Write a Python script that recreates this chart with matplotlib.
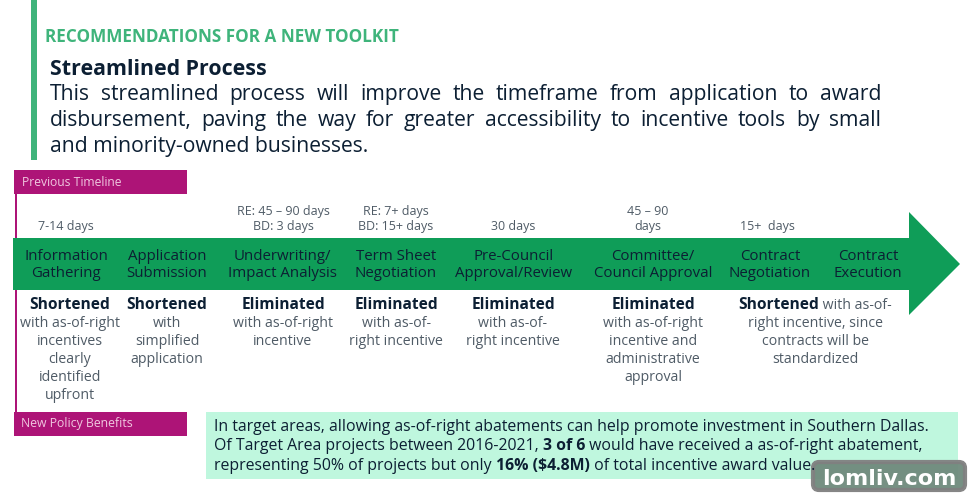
import matplotlib
matplotlib.use('Agg')
import matplotlib.pyplot as plt
from matplotlib.patches import Rectangle, Polygon, FancyBboxPatch

plt.rcParams['font.family'] = ['Open Sans', 'DejaVu Sans']

kicker = 'RECOMMENDATIONS FOR A NEW TOOLKIT'
heading = 'Streamlined Process'
intro_lines = ['This streamlined process will improve the timeframe from application to award',
               'disbursement, paving the way for greater accessibility to incentive tools by small']
intro_last = 'and minority-owned businesses.'

durations = ['7-14 days', 'RE: 45 – 90 days\nBD: 3 days', 'RE: 7+ days\nBD: 15+ days', '30 days',
             '45 – 90\ndays', '15+  days']
duration_x = [66, 283, 396, 513, 648, 767]

steps = ['Information\nGathering', 'Application\nSubmission', 'Underwriting/\nImpact Analysis',
         'Term Sheet\nNegotiation', 'Pre-Council\nApproval/Review', 'Committee/\nCouncil Approval',
         'Contract\nNegotiation', 'Contract\nExecution']
step_x = [66, 167, 282, 396, 514, 653, 770, 868]

benefit_bold = ['Shortened', 'Shortened', 'Eliminated', 'Eliminated', 'Eliminated', 'Eliminated']
benefit_text = ['with as-of-right\nincentives\nclearly\nidentified\nupfront',
                'with\nsimplified\napplication',
                'with as-of-right\nincentive',
                'with as-of-\nright incentive',
                'with as-of-\nright incentive',
                'with as-of-right\nincentive and\nadministrative\napproval']
benefit_x = [70, 167, 283, 396, 513, 653]

last_benefit = [[('Shortened', True), (' with as-of-', False)]]
last_benefit_text = ['right incentive, since', 'contracts will be', 'standardized']

note_lines = [
    [('In target areas, allowing as-of-right abatements can help promote investment in Southern Dallas.', False)],
    [('Of Target Area projects between 2016-2021, ', False), ('3 of 6', True),
     (' would have received a as-of-right abatement,', False)],
    [('representing 50% of projects but only ', False), ('16% ($4.8M)', True),
     (' of total incentive award value.', False)],
]

GREEN = '#0f9d58'
BAR = '#3fb47b'
PINK = '#ad1477'
DARK = '#0c1f33'
GREY = '#4f5b66'

fig = plt.figure(figsize=(9.68, 4.96), dpi=100)
ax = fig.add_axes([0, 0, 1, 1])
ax.set_xlim(0, 968)
ax.set_ylim(496, 0)
ax.axis('off')
renderer = fig.canvas.get_renderer()


def text_width(s, **kw):
    t = ax.text(0, 0, s.replace(' ', '\u00a0'), **kw)
    w = t.get_window_extent(renderer).width
    t.remove()
    return w


def draw_runs(runs, x, y, size, color=DARK):
    # one line with bold and regular pieces side by side
    for s, bold in runs:
        kw = dict(fontsize=size, fontweight='bold' if bold else 'normal', color=color)
        ax.text(x, y, s.replace(' ', '\u00a0'), va='baseline', ha='left', **kw)
        x += text_width(s, **kw)


def draw_justified(line, x0, x1, y, size):
    words = line.split(' ')
    widths = [text_width(w, fontsize=size) for w in words]
    gap = (x1 - x0 - sum(widths)) / (len(words) - 1)
    x = x0
    for w, wd in zip(words, widths):
        ax.text(x, y, w, fontsize=size, color=DARK, va='baseline', ha='left')
        x += wd + gap


# header
ax.add_patch(Rectangle((31, 0), 6, 160, color=BAR, lw=0))
ax.text(45, 42, kicker, fontsize=12.3, fontweight='bold', color=BAR, va='baseline')
ax.text(49.5, 75, heading, fontsize=15.4, fontweight='bold', color=DARK, va='baseline')
for i, line in enumerate(intro_lines):
    draw_justified(line, 49.5, 881, 100 + i * 26, 15.2)
ax.text(49.5, 152, intro_last, fontsize=15.2, color=DARK, va='baseline')

# side labels
ax.add_patch(Rectangle((15, 194), 1.5, 218, color=PINK, lw=0))
ax.add_patch(Rectangle((14, 170), 173, 24, color=PINK, lw=0))
ax.add_patch(Rectangle((14, 412), 173, 24, color=PINK, lw=0))
ax.text(22, 182, 'Previous Timeline', fontsize=8.7, color='#f0c8e0', va='center')
ax.text(21, 424, 'New Policy Benefits', fontsize=8.8, color='#f0c8e0', va='center')

# arrow
ax.add_patch(Polygon([(13, 238), (909, 238), (909, 212), (960, 264), (909, 315), (909, 290), (13, 290)],
                     closed=True, color=GREEN, lw=0))

for x, s in zip(duration_x, durations):
    ax.text(x, 233, s, fontsize=9.0, color=GREY, ha='center', va='bottom', linespacing=1.22)

for x, s in zip(step_x, steps):
    ax.text(x, 265, s, fontsize=10.8, color=DARK, ha='center', va='center', linespacing=1.12)

for x, b, s in zip(benefit_x, benefit_bold, benefit_text):
    ax.text(x, 309, b, fontsize=11.2, fontweight='bold', color=DARK, ha='center', va='baseline')
    for i, line in enumerate(s.split('\n')):
        ax.text(x, 327 + i * 18, line, fontsize=10.2, color=GREY, ha='center', va='baseline')

# last benefit starts with bold words on the same line
for runs in last_benefit:
    widths = [text_width(s, fontsize=11.2 if b else 10.2, fontweight='bold' if b else 'normal') for s, b in runs]
    x = 815 - sum(widths) / 2
    for (s, b), w in zip(runs, widths):
        ax.text(x, 309, s.replace(' ', '\u00a0'), va='baseline', ha='left', fontsize=11.2 if b else 10.2,
                fontweight='bold' if b else 'normal', color=DARK if b else GREY)
        x += w
for i, line in enumerate(last_benefit_text):
    ax.text(815, 327 + i * 18, line, fontsize=10.2, color=GREY, ha='center', va='baseline')

# note box
ax.add_patch(Rectangle((206, 412), 752, 67, color='#bff7de', lw=0))
for i, runs in enumerate(note_lines):
    draw_runs(runs, 214, 431 + i * 19.5, 11.47)

# watermark
ax.add_patch(FancyBboxPatch((813, 462), 152, 28, boxstyle='round,pad=0,rounding_size=6',
                            facecolor='#6f8a7c', edgecolor='#808080', lw=3, alpha=0.95))
ax.text(889, 479, 'lomliv.com', fontsize=16, fontweight='bold', color='white',
        family=['DejaVu Sans'], ha='center', va='center')

fig.savefig('out.png', dpi=100)
